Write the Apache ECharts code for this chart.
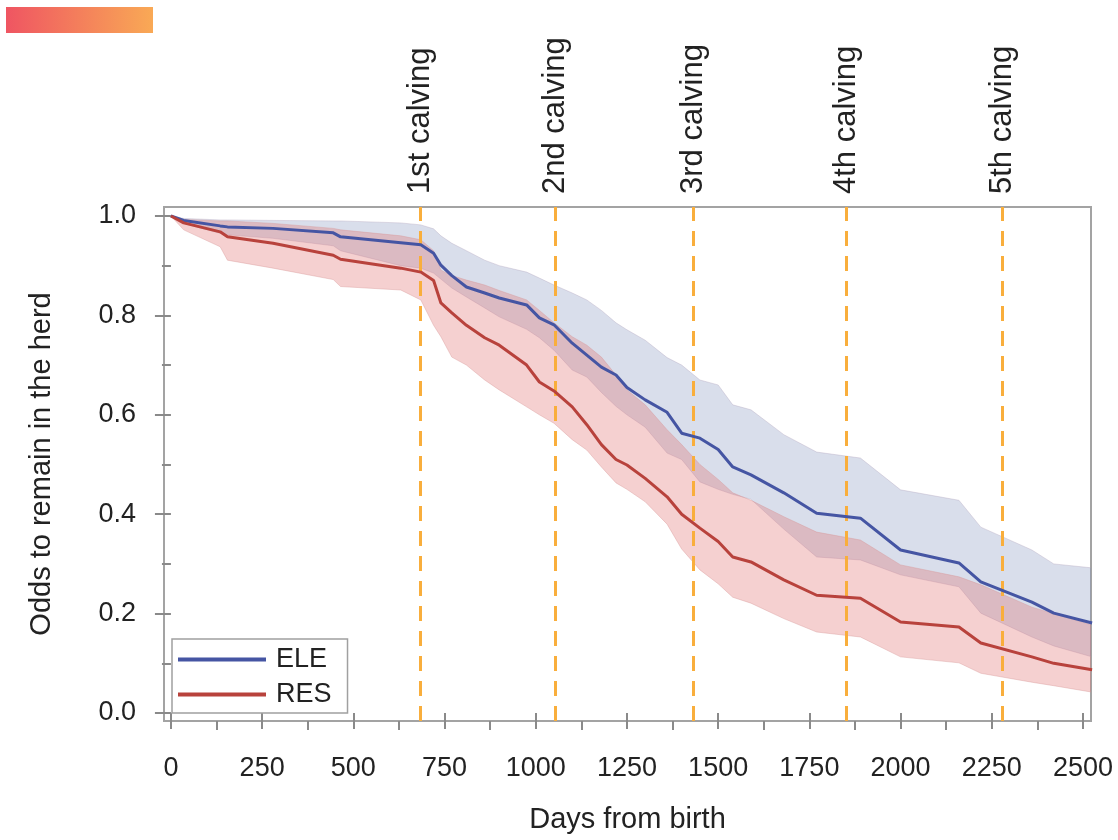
<!DOCTYPE html>
<html>
<head>
<meta charset="utf-8">
<script src="https://cdn.jsdelivr.net/npm/echarts@6/dist/echarts.min.js"></script>
<style>
  html, body { margin: 0; padding: 0; background: #fff; }
  #chart { width: 1118px; height: 840px; }
</style>
</head>
<body>
<div id="chart"></div>
<script>
// Days from birth at which the survival estimates are sampled
const days = [0, 35, 135, 155, 280, 445, 465, 630, 685, 720, 740, 770, 810, 860, 900, 975, 1010, 1050, 1100, 1140, 1180, 1220, 1250, 1300, 1360, 1400, 1450, 1500, 1540, 1590, 1680, 1770, 1890, 2000, 2160, 2220, 2360, 2420, 2525];

// ELE: estimate with lower / upper confidence limits
const eleMid = [1.0, 0.991, 0.980, 0.978, 0.975, 0.966, 0.958, 0.946, 0.942, 0.925, 0.901, 0.880, 0.857, 0.845, 0.835, 0.821, 0.795, 0.781, 0.744, 0.720, 0.696, 0.680, 0.655, 0.630, 0.605, 0.563, 0.553, 0.530, 0.495, 0.479, 0.443, 0.402, 0.392, 0.328, 0.302, 0.264, 0.223, 0.201, 0.181];
const eleLo  = [1.0, 0.985, 0.965, 0.962, 0.955, 0.940, 0.930, 0.900, 0.895, 0.885, 0.873, 0.855, 0.837, 0.815, 0.797, 0.772, 0.755, 0.730, 0.690, 0.676, 0.645, 0.617, 0.600, 0.575, 0.523, 0.510, 0.465, 0.450, 0.440, 0.430, 0.370, 0.314, 0.308, 0.278, 0.254, 0.201, 0.153, 0.135, 0.113];
const eleHi  = [1.0, 0.995, 0.992, 0.992, 0.991, 0.990, 0.990, 0.986, 0.982, 0.974, 0.960, 0.945, 0.930, 0.911, 0.900, 0.887, 0.875, 0.861, 0.845, 0.831, 0.810, 0.785, 0.771, 0.750, 0.715, 0.700, 0.670, 0.660, 0.620, 0.610, 0.560, 0.525, 0.513, 0.449, 0.428, 0.374, 0.328, 0.300, 0.292];

// RES: estimate with lower / upper confidence limits
const resMid = [1.0, 0.986, 0.968, 0.958, 0.945, 0.921, 0.913, 0.895, 0.887, 0.870, 0.825, 0.805, 0.780, 0.755, 0.740, 0.700, 0.666, 0.648, 0.616, 0.580, 0.540, 0.510, 0.499, 0.472, 0.435, 0.400, 0.372, 0.345, 0.314, 0.304, 0.268, 0.237, 0.231, 0.183, 0.173, 0.141, 0.113, 0.100, 0.087];
const resLo  = [1.0, 0.972, 0.938, 0.911, 0.895, 0.872, 0.858, 0.851, 0.831, 0.780, 0.757, 0.716, 0.700, 0.670, 0.650, 0.616, 0.600, 0.583, 0.550, 0.529, 0.495, 0.463, 0.450, 0.425, 0.380, 0.330, 0.288, 0.260, 0.233, 0.221, 0.190, 0.163, 0.153, 0.113, 0.101, 0.080, 0.062, 0.055, 0.042];
const resHi  = [1.0, 0.993, 0.990, 0.990, 0.985, 0.975, 0.972, 0.960, 0.952, 0.930, 0.891, 0.880, 0.871, 0.861, 0.850, 0.831, 0.810, 0.785, 0.757, 0.740, 0.716, 0.680, 0.650, 0.620, 0.570, 0.540, 0.500, 0.470, 0.443, 0.428, 0.395, 0.364, 0.348, 0.298, 0.274, 0.258, 0.213, 0.200, 0.177];

// Calving events marked on the time axis
const calvingDays  = [683, 1054, 1433, 1851, 2280];
const calvingNames = ['1st calving', '2nd calving', '3rd calving', '4th calving', '5th calving'];

// Axis ticks
const xMajorTicks = [0, 250, 500, 750, 1000, 1250, 1500, 1750, 2000, 2250, 2500];
const xMinorTicks = [125, 375, 625, 875, 1125, 1375, 1625, 1875, 2125, 2375];
const yMajorTicks = [0, 0.2, 0.4, 0.6, 0.8, 1.0];
const yMinorTicks = [0.1, 0.3, 0.5, 0.7, 0.9];

const FONT = 'Liberation Sans, Arial, sans-serif';
const X_MIN = -19, X_MAX = 2522;
const Y_MIN = -0.016, Y_MAX = 1.018;

const pairs = (vals) => days.map((d, i) => [d, vals[i]]);

// Confidence band: one polygon along the upper limit and back along the lower limit
function band(name, lo, hi, fill, edge) {
  return {
    name: name, type: 'custom', silent: true, z: 1, clip: true,
    data: [[days[0], hi[0]]],
    encode: { x: 0, y: 1 },
    renderItem: (params, api) => {
      const top = days.map((d, i) => api.coord([d, hi[i]]));
      const bottom = days.map((d, i) => api.coord([d, lo[i]])).reverse();
      return {
        type: 'polygon',
        shape: { points: top.concat(bottom) },
        style: { fill: fill, stroke: edge, lineWidth: 1 }
      };
    }
  };
}

const chart = echarts.init(document.getElementById('chart'), null, { renderer: 'canvas' });

const option = {
  animation: false,
  backgroundColor: '#ffffff',
  textStyle: { fontFamily: FONT },
  graphic: [{
    type: 'rect', left: 6, top: 7, shape: { width: 147, height: 26 },
    style: {
      fill: new echarts.graphic.LinearGradient(0, 0, 1, 0, [
        { offset: 0, color: '#EF5562' },
        { offset: 1, color: '#F9A955' }
      ])
    }
  }],
  grid: {
    left: 164, right: 27, top: 207, bottom: 119,
    show: true, borderColor: '#a3a3a3', borderWidth: 2, backgroundColor: '#fff'
  },
  legend: {
    data: ['ELE', 'RES'],
    orient: 'vertical', left: 172, top: 639,
    backgroundColor: '#fff', borderColor: '#a0a0a0', borderWidth: 1.5,
    padding: [7, 16, 5, 6], itemGap: 8,
    icon: 'rect', itemWidth: 88, itemHeight: 4,
    textStyle: { fontSize: 27, color: '#222', fontFamily: FONT, padding: [0, 0, 0, 5] }
  },
  xAxis: [
    {
      type: 'value', min: X_MIN, max: X_MAX, position: 'bottom',
      name: 'Days from birth', nameLocation: 'middle', nameGap: 84,
      nameTextStyle: { fontSize: 29, color: '#222', fontFamily: FONT },
      axisLine: { show: false },
      splitLine: { show: false },
      axisTick: { customValues: xMajorTicks, length: 16, lineStyle: { color: '#8a8a8a', width: 2 } },
      axisLabel: { customValues: xMajorTicks, margin: 34, fontSize: 27, color: '#222', fontFamily: FONT,
                   formatter: (v) => String(v) }
    },
    {
      type: 'value', min: X_MIN, max: X_MAX, position: 'top',
      axisLine: { show: false }, splitLine: { show: false }, axisTick: { show: false },
      axisLabel: {
        customValues: calvingDays, rotate: 90, margin: 13, fontSize: 31, color: '#222', fontFamily: FONT,
        formatter: (v) => calvingNames[calvingDays.indexOf(v)]
      }
    },
    {
      type: 'value', min: X_MIN, max: X_MAX, position: 'bottom', offset: 0,
      axisLine: { show: false }, splitLine: { show: false }, axisLabel: { show: false },
      axisTick: { customValues: xMinorTicks, length: 9, lineStyle: { color: '#8a8a8a', width: 2 } }
    }
  ],
  yAxis: [
    {
      type: 'value', min: Y_MIN, max: Y_MAX,
      name: 'Odds to remain in the herd', nameLocation: 'middle', nameGap: 108,
      nameTextStyle: { fontSize: 29, color: '#222', fontFamily: FONT },
      axisLine: { show: false }, splitLine: { show: false },
      axisTick: { customValues: yMajorTicks, length: 16, lineStyle: { color: '#8a8a8a', width: 2 } },
      axisLabel: { customValues: yMajorTicks, margin: 28, fontSize: 27, color: '#222', fontFamily: FONT,
                   formatter: (v) => v.toFixed(1) }
    },
    {
      type: 'value', min: Y_MIN, max: Y_MAX, position: 'left', offset: 0,
      axisLine: { show: false }, splitLine: { show: false }, axisLabel: { show: false },
      axisTick: { customValues: yMinorTicks, length: 9, lineStyle: { color: '#8a8a8a', width: 2 } }
    }
  ],
  series: [
    band('ELE band', eleLo, eleHi, 'rgba(128,145,190,0.3)', 'rgba(175,160,185,0.35)'),
    band('RES band', resLo, resHi, 'rgba(224,112,112,0.33)', 'rgba(215,150,150,0.4)'),
    {
      name: 'calving', type: 'line', data: [], z: 3, silent: true,
      markLine: {
        silent: true, symbol: ['none', 'none'],
        label: { show: false },
        lineStyle: { color: '#F9AE3C', width: 3, type: [15, 10] },
        data: calvingDays.map((d) => ({ xAxis: d }))
      }
    },
    {
      name: 'ELE', type: 'line', data: pairs(eleMid), symbol: 'none', z: 5,
      color: '#4555a3', lineStyle: { width: 3, color: '#4555a3' }
    },
    {
      name: 'RES', type: 'line', data: pairs(resMid), symbol: 'none', z: 5,
      color: '#b8423c', lineStyle: { width: 3, color: '#b8423c' }
    }
  ]
};

chart.setOption(option);
</script>
</body>
</html>
